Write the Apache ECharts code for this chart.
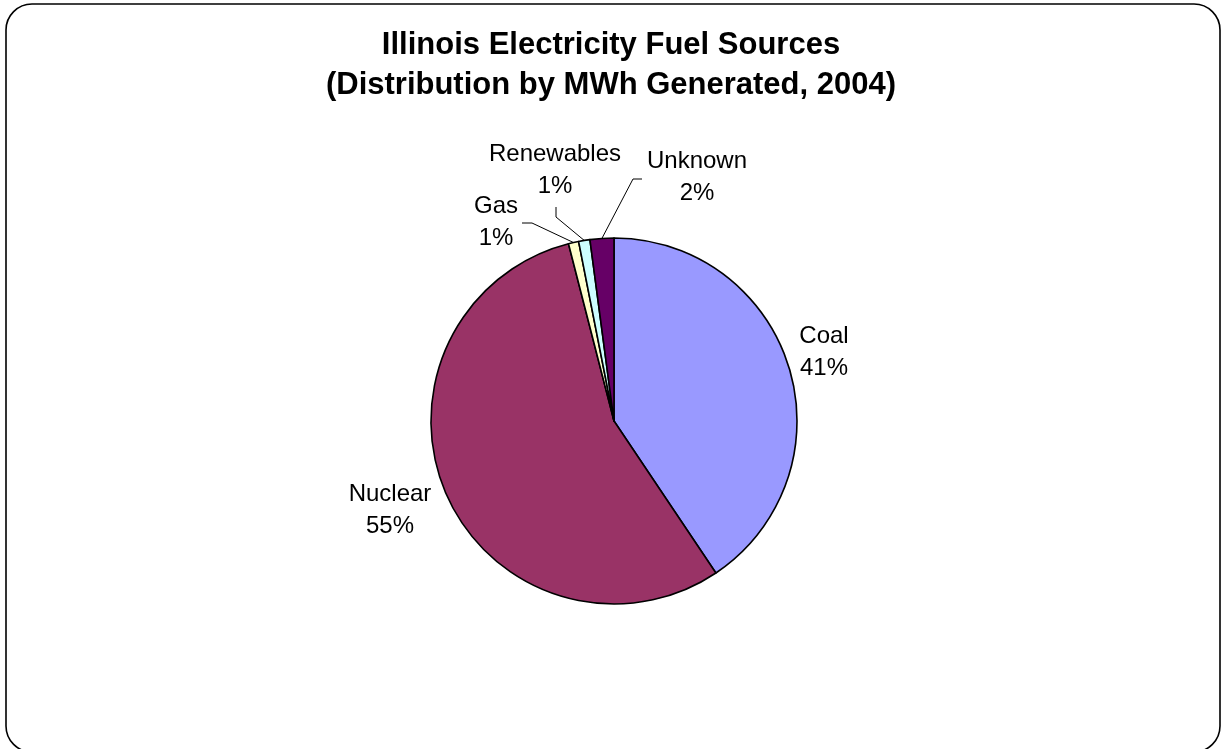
<!DOCTYPE html>
<html>
<head>
<meta charset="utf-8">
<script src="https://cdn.jsdelivr.net/npm/echarts@6/dist/echarts.min.js"></script>
<style>
html,body{margin:0;padding:0;background:#fff;}
#chart{width:1222px;height:749px;}
</style>
</head>
<body>
<div id="chart"></div>
<script>
const categories = ['Coal', 'Nuclear', 'Gas', 'Renewables', 'Unknown'];
const shares = [40.6, 55.4, 0.9, 1.0, 2.1];
const colors = ['#9999FF', '#993366', '#FFFFCC', '#CCFFFF', '#660066'];
const titleLines = ['Illinois Electricity Fuel Sources', '(Distribution by MWh Generated, 2004)'];

// label placement (layout, not data)
const labelPlace = [
  {x: 824, y: 352, line: false},
  {x: 390, y: 510, line: false},
  {x: 496, y: 222, line: true, elbow: [532, 223], end: [522, 223]},
  {x: 555, y: 170, line: true, elbow: [556, 217], end: [556, 207]},
  {x: 697, y: 177, line: true, elbow: [633, 179], end: [642, 179]}
];

const total = shares.reduce((a, b) => a + b, 0);
const chart = echarts.init(document.getElementById('chart'), null, {renderer: 'canvas'});

chart.setOption({
  backgroundColor: '#ffffff',
  animation: false,
  title: {
    text: titleLines.join('\n'),
    left: 'center',
    top: 20,
    textStyle: {fontFamily: 'Liberation Sans', fontSize: 31, fontWeight: 'bold', color: '#000', lineHeight: 40}
  },
  graphic: [{
    type: 'rect',
    shape: {x: 6, y: 4, width: 1214, height: 748, r: 26},
    style: {fill: 'none', stroke: '#000', lineWidth: 1.6},
    silent: true,
    z: -1
  }],
  series: [{
    type: 'pie',
    center: [614, 421],
    radius: [0, 183],
    startAngle: 90,
    clockwise: true,
    avoidLabelOverlap: false,
    itemStyle: {borderColor: '#000', borderWidth: 1.6},
    label: {
      show: true,
      position: 'outside',
      formatter: p => p.name + '\n' + Math.round(p.value / total * 100) + '%',
      fontFamily: 'Liberation Sans',
      fontSize: 24,
      lineHeight: 32,
      color: '#000',
      align: 'center'
    },
    labelLine: {show: true, length: 20, length2: 10, lineStyle: {color: '#000', width: 1}},
    labelLayout: function (params) {
      const lp = labelPlace[params.dataIndex];
      const res = {x: lp.x, y: lp.y, align: 'center', verticalAlign: 'middle'};
      if (lp.line && params.labelLinePoints) {
        res.labelLinePoints = [params.labelLinePoints[0], lp.elbow, lp.end];
      }
      return res;
    },
    data: categories.map((c, i) => ({
      name: c,
      value: shares[i],
      itemStyle: {color: colors[i]},
      labelLine: {show: labelPlace[i].line}
    }))
  }]
});
</script>
</body>
</html>
